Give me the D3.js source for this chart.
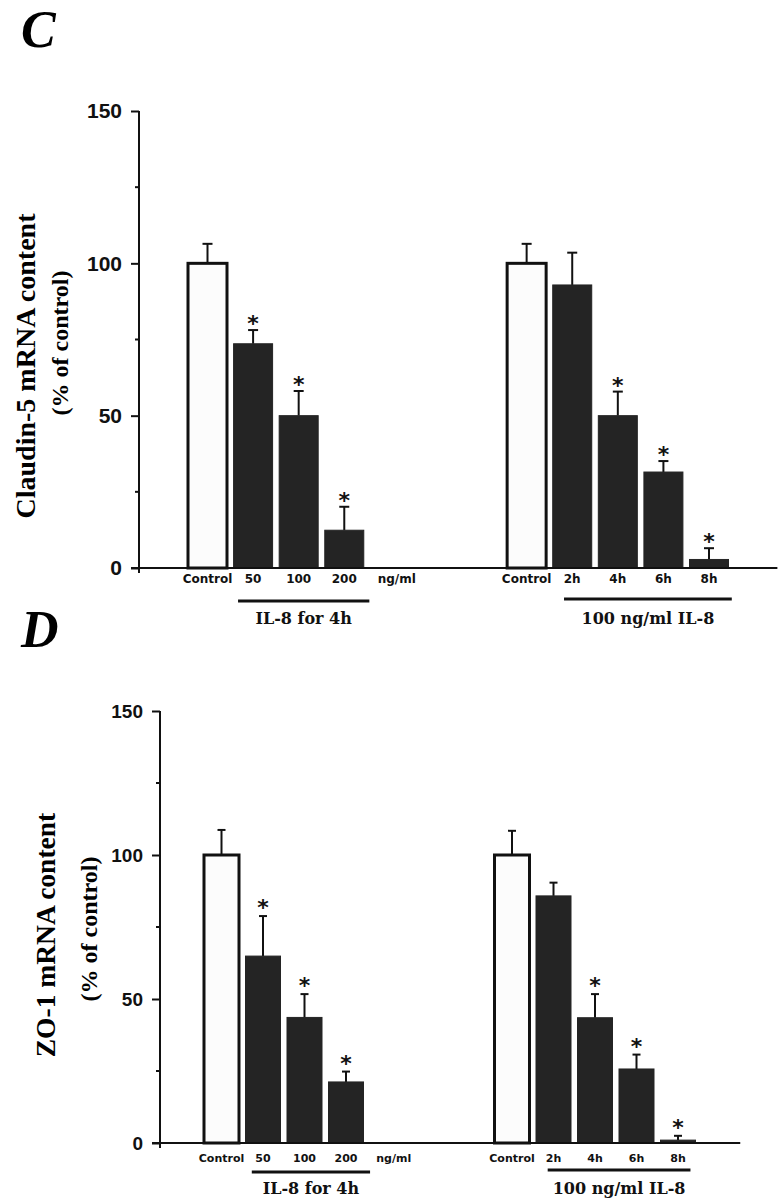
<!DOCTYPE html>
<html>
<head>
<meta charset="utf-8">
<script src="https://cdn.jsdelivr.net/npm/d3@7"></script>
<style>
  body { margin: 0; background: #fff; }
  svg { display: block; }
</style>
</head>
<body>
<svg id="fig" width="783" height="1200"></svg>
<script>
// categories
const doseLabels = ["Control", "50", "100", "200"];
const timeLabels = ["Control", "2h", "4h", "6h", "8h"];
const doseSig = [false, true, true, true];
const timeSig = [false, false, true, true, true];
const yTicks = [0, 50, 100, 150];
const yMinor = [25, 75, 125];

// panel C: claudin-5 (% of control)
const claudinDose = [100, 73.6, 50, 12.4];
const claudinDoseErr = [6.4, 4.5, 8.1, 7.7];
const claudinTime = [100, 92.9, 50, 31.5, 2.8];
const claudinTimeErr = [6.4, 10.6, 7.9, 3.6, 3.7];

// panel D: ZO-1 (% of control)
const zo1Dose = [100, 64.9, 43.6, 21.2];
const zo1DoseErr = [8.7, 13.9, 8.1, 3.6];
const zo1Time = [100, 85.8, 43.5, 25.7, 1.0];
const zo1TimeErr = [8.4, 4.6, 8.2, 5.0, 1.5];

const svg = d3.select("#fig");

const panels = [
  {
    letter: "C", letterY: 47,
    title1: "Claudin-5 mRNA content", title2: "(% of control)",
    t1x: 26, t1y: 366, t1size: 28, t2x: 60, t2y: 343, t2size: 24,
    axisX: 139, yRange: [568, 111], slotRange: [207.5, 709], barW: 39, capW: 10,
    tickSize: 21, labSize: 12, labY: 583, ulY: [601, 599], groupY: 624, starGap: 11,
    ul: [[0.67, 3.55], [7.82, 11.5]],
    dose: claudinDose, doseErr: claudinDoseErr, time: claudinTime, timeErr: claudinTimeErr
  },
  {
    letter: "D", letterY: 647,
    title1: "ZO-1 mRNA content", title2: "(% of control)",
    t1x: 46, t1y: 935, t1size: 27.5, t2x: 89, t2y: 929, t2size: 24,
    axisX: 160, yRange: [1143, 711], slotRange: [221.5, 678], barW: 35, capW: 8,
    tickSize: 19, labSize: 11, labY: 1162, ulY: [1172, 1170], groupY: 1194, starGap: 13,
    ul: [[0.73, 3.58], [7.86, 11.3]],
    dose: zo1Dose, doseErr: zo1DoseErr, time: zo1Time, timeErr: zo1TimeErr
  }
];

panels.forEach(drawPanel);

function drawPanel(p) {
  const g = svg.append("g");
  const y = d3.scaleLinear().domain([0, 150]).range(p.yRange);
  const x = d3.scaleLinear().domain([0, 11]).range(p.slotRange);

  // bars: slots 0-3 dose group, 7-11 time group
  const bars = [];
  doseLabels.forEach((l, i) => bars.push({label: l, slot: i, v: p.dose[i], e: p.doseErr[i], sig: doseSig[i], ctrl: i === 0}));
  timeLabels.forEach((l, i) => bars.push({label: l, slot: 7 + i, v: p.time[i], e: p.timeErr[i], sig: timeSig[i], ctrl: i === 0}));

  // panel letter
  g.append("text")
    .attr("x", 21).attr("y", p.letterY)
    .attr("font-family", "Liberation Serif, Times New Roman, serif")
    .attr("font-weight", "bold").attr("font-style", "italic")
    .attr("font-size", 52)
    .text(p.letter);

  // y-axis titles
  [[p.title1, p.t1x, p.t1y, p.t1size], [p.title2, p.t2x, p.t2y, p.t2size]].forEach(([t, cx, cy, fs]) => {
    g.append("text")
      .attr("transform", `translate(${cx + fs * 0.33},${cy}) rotate(-90)`)
      .attr("text-anchor", "middle")
      .attr("font-family", "Liberation Serif, Times New Roman, serif")
      .attr("font-weight", "bold")
      .attr("font-size", fs)
      .text(t);
  });

  // error bars (upper only)
  const eb = g.append("g").attr("stroke", "#111").attr("stroke-width", 2);
  bars.forEach(d => {
    const cx = x(d.slot);
    eb.append("line").attr("x1", cx).attr("x2", cx).attr("y1", y(d.v)).attr("y2", y(d.v + d.e));
    eb.append("line").attr("x1", cx - p.capW / 2).attr("x2", cx + p.capW / 2).attr("y1", y(d.v + d.e)).attr("y2", y(d.v + d.e));
  });

  // bars
  g.append("g").selectAll("rect")
    .data(bars)
    .join("rect")
    .attr("x", d => x(d.slot) - p.barW / 2)
    .attr("width", p.barW)
    .attr("y", d => y(d.v))
    .attr("height", d => y(0) - y(d.v))
    .attr("fill", d => d.ctrl ? "#fcfcfc" : "#242424")
    .attr("stroke", d => d.ctrl ? "#111" : "#242424")
    .attr("stroke-width", d => d.ctrl ? 3 : 1);

  // asterisks
  g.append("g").selectAll("text")
    .data(bars.filter(d => d.sig))
    .join("text")
    .attr("x", d => x(d.slot))
    .attr("y", d => y(d.v + d.e) - p.starGap + 12)
    .attr("text-anchor", "middle")
    .attr("font-family", "DejaVu Sans, Verdana, sans-serif")
    .attr("font-weight", "bold")
    .attr("font-size", 22)
    .attr("fill", "#111")
    .text("*");

  // y axis
  const ax = g.append("g")
    .attr("transform", `translate(${p.axisX},0)`)
    .call(d3.axisLeft(y).tickValues(yTicks).tickSize(8).tickPadding(9).tickSizeOuter(0));
  ax.select(".domain").remove();
  ax.selectAll(".tick line").attr("stroke", "#111").attr("stroke-width", 2);
  ax.selectAll(".tick text")
    .attr("font-family", "Liberation Sans, Arial, sans-serif")
    .attr("font-weight", "bold")
    .attr("font-size", p.tickSize)
    .attr("fill", "#111");
  ax.append("g").selectAll("line")
    .data(yMinor)
    .join("line")
    .attr("x1", -4).attr("x2", 0)
    .attr("y1", d => y(d)).attr("y2", d => y(d))
    .attr("stroke", "#111").attr("stroke-width", 2);
  ax.append("line")
    .attr("x1", 0).attr("x2", 0)
    .attr("y1", y(150)).attr("y2", y(0) + 5)
    .attr("stroke", "#111").attr("stroke-width", 2);

  // x axis baseline
  g.append("line")
    .attr("x1", p.axisX - 8).attr("x2", x(12.5))
    .attr("y1", y(0)).attr("y2", y(0))
    .attr("stroke", "#111").attr("stroke-width", 2);

  // category labels
  const labs = bars.map(d => ({t: d.label, slot: d.slot})).concat([{t: "ng/ml", slot: 4.15}]);
  g.append("g").selectAll("text")
    .data(labs)
    .join("text")
    .attr("x", d => x(d.slot))
    .attr("y", p.labY)
    .attr("text-anchor", "middle")
    .attr("font-family", "DejaVu Sans, Verdana, sans-serif")
    .attr("font-weight", "bold")
    .attr("font-size", p.labSize)
    .attr("fill", "#111")
    .text(d => d.t);

  // group underlines + labels
  const groupNames = ["IL-8 for 4h", "100 ng/ml IL-8"];
  groupNames.forEach((t, i) => {
    const [a, b] = p.ul[i];
    g.append("line")
      .attr("x1", x(a)).attr("x2", x(b))
      .attr("y1", p.ulY[i]).attr("y2", p.ulY[i])
      .attr("stroke", "#111").attr("stroke-width", 3);
    g.append("text")
      .attr("x", (x(a) + x(b)) / 2)
      .attr("y", p.groupY)
      .attr("text-anchor", "middle")
      .attr("font-family", "DejaVu Serif, Georgia, serif")
      .attr("font-weight", "bold")
      .attr("font-size", 16)
      .attr("fill", "#111")
      .text(t);
  });
}
</script>
</body>
</html>
